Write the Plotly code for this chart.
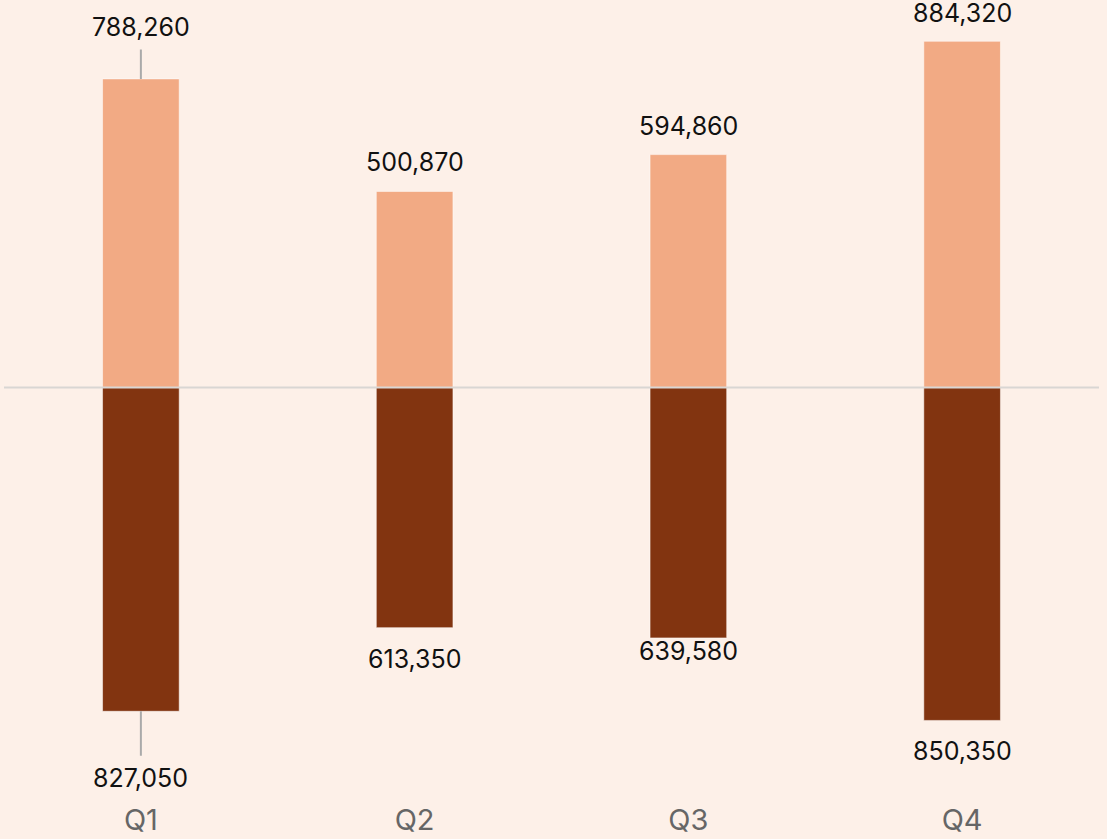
import plotly.graph_objects as go

quarters = ["Q1", "Q2", "Q3", "Q4"]
upper_values = [788260, 500870, 594860, 884320]
lower_values = [827050, 613350, 639580, 850350]

UPPER_COLOR = "#F2AA84"
LOWER_COLOR = "#823410"
BG = "#FDF0E8"
FONT = "Inter, Roboto, sans-serif"

fig = go.Figure()
fig.add_trace(go.Bar(
    x=quarters, y=upper_values, marker=dict(color=UPPER_COLOR, line=dict(width=1, color="rgba(255,255,255,0.5)")),
    width=0.28, showlegend=False, hoverinfo="skip"))
fig.add_trace(go.Bar(
    x=quarters, y=[-v for v in lower_values], marker=dict(color=LOWER_COLOR, line=dict(width=1, color="rgba(255,255,255,0.5)")),
    width=0.28, showlegend=False, hoverinfo="skip"))

label_font = dict(family=FONT, size=25, color="#111111")
upper_shift = [None, 29, 29, 28]
lower_shift = [None, -31, -13, -31]
for i, q in enumerate(quarters):
    txt_u = f"{upper_values[i]:,}"
    txt_l = f"{lower_values[i]:,}"
    if i == 0:
        fig.add_annotation(x=q, y=upper_values[i], text=txt_u, showarrow=True, arrowhead=0,
                           arrowwidth=2, arrowcolor="#AAAAAA", ax=0, ay=-52, startstandoff=6,
                           font=label_font)
        fig.add_annotation(x=q, y=-lower_values[i], text=txt_l, showarrow=True, arrowhead=0,
                           arrowwidth=2, arrowcolor="#AAAAAA", ax=0, ay=67, startstandoff=6,
                           font=label_font)
    else:
        fig.add_annotation(x=q, y=upper_values[i], text=txt_u, showarrow=False,
                           yshift=upper_shift[i], font=label_font)
        fig.add_annotation(x=q, y=-lower_values[i], text=txt_l, showarrow=False,
                           yshift=lower_shift[i], font=label_font)

fig.add_shape(type="line", xref="paper", yref="y", x0=0, x1=1, y0=0, y1=0,
              line=dict(color="#D9D6D3", width=2), layer="above")

fig.update_layout(
    width=1107, height=839,
    margin=dict(l=4, r=8, t=0, b=39),
    paper_bgcolor=BG, plot_bgcolor=BG,
    barmode="overlay",
    font=dict(family=FONT),
    xaxis=dict(range=[-0.5, 3.5], showgrid=False, zeroline=False, showline=False,
               ticks="", tickfont=dict(family=FONT, size=29, color="#666666")),
    yaxis=dict(range=[-1053640, 989782], showgrid=False, zeroline=False, showline=False,
               showticklabels=False, ticks=""),
)

fig.write_html("out.html", config={"displayModeBar": False},
               post_script="document.body.style.margin='0';")
